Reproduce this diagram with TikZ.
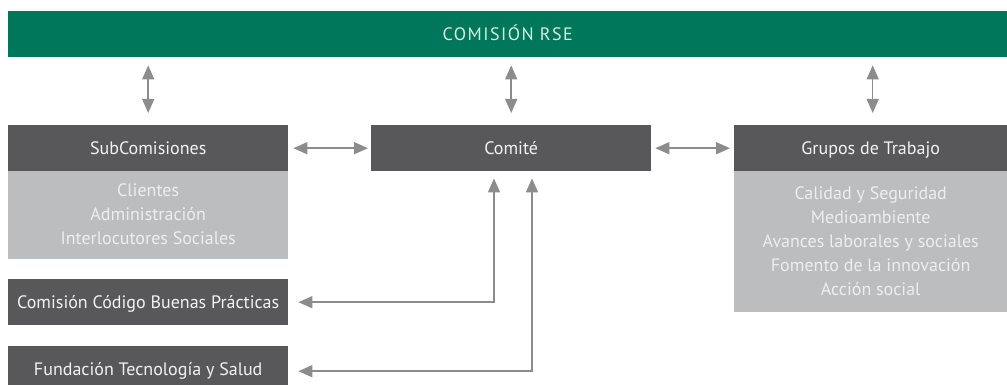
\documentclass[tikz,border=0pt]{standalone}
\usepackage{fontspec}
\setmainfont{PT Sans}
\usetikzlibrary{arrows.meta,calc}
\definecolor{rsegreen}{HTML}{00765A}
\definecolor{darkbox}{HTML}{58585A}
\definecolor{lightbox}{HTML}{BCBDBF}
\definecolor{arrgray}{HTML}{8C8C8C}
\definecolor{greentext}{HTML}{D6EEE4}
\definecolor{lighttext}{HTML}{EEEEEE}
\tikzset{
  darkrect/.style={fill=darkbox, draw=none, inner sep=0pt, text height=13pt, text depth=0pt, text=white!95!black, font=\fontsize{18}{20}\selectfont},
  lightrect/.style={fill=lightbox, draw=none, inner sep=0pt},
  lighttxt/.style={text=lighttext, align=center, font=\fontsize{18}{24}\selectfont, inner sep=0pt},
  arr/.style={draw=arrgray, line width=1.5pt, {Triangle[length=14pt,width=12pt]}-{Triangle[length=14pt,width=12pt]}},
}
\begin{document}
\begin{tikzpicture}[x=1pt,y=-1pt]
\useasboundingbox (0,0) rectangle (1007,385);
% top bar
\node[fill=rsegreen, inner sep=0pt, minimum width=999pt, minimum height=46pt, anchor=north west] (rse) at (8,11) {};
\node[text=greentext, text height=13pt, text depth=0pt, inner sep=0pt, font=\fontsize{18}{20}\selectfont\addfontfeatures{LetterSpace=8}] (rsetxt) at (rse.center) {COMISIÓN RSE};
% row boxes
\node[darkrect, minimum width=280pt, minimum height=46pt, anchor=north west] (sub) at (8,125) {SubComisiones};
\node[darkrect, minimum width=280pt, minimum height=46pt, anchor=north west] (comite) at (371,125) {Comité};
\node[darkrect, minimum width=273pt, minimum height=46pt, anchor=north west] (grupos) at (734,125) {Grupos de Trabajo};
% light boxes
\node[lightrect, minimum width=280pt, minimum height=88pt, anchor=north west] (subl) at (8,171) {};
\node[lighttxt] (subltxt) at ([yshift=1pt]subl.center) {Clientes\\Administración\\Interlocutores Sociales};
\node[lightrect, minimum width=273pt, minimum height=141pt, anchor=north west] (gruposl) at (734,171) {};
\node[lighttxt] (gruposltxt) at ([yshift=1pt]gruposl.center) {Calidad y Seguridad\\Medioambiente\\Avances laborales y sociales\\Fomento de la innovación\\Acción social};
% lower boxes
\node[darkrect, minimum width=280pt, minimum height=46pt, anchor=north west] (codigo) at (8,279) {Comisión Código Buenas Prácticas};
\node[darkrect, minimum width=280pt, minimum height=46pt, anchor=north west] (fund) at (8,346) {Fundación Tecnología y Salud};
% vertical arrows
\draw[arr, shorten <=8pt, shorten >=12pt] (rse.south -| sub.north) -- (sub.north);
\draw[arr, shorten <=8pt, shorten >=12pt] (rse.south -| comite.north) -- (comite.north);
\draw[arr, shorten <=8pt, shorten >=12pt] ([xshift=2pt]rse.south -| grupos.north) -- ([xshift=2pt]grupos.north);
% horizontal arrows
\draw[arr, shorten <=5pt, shorten >=3pt] (sub.east) -- (comite.west);
\draw[arr, shorten <=4pt, shorten >=4pt] (comite.east) -- (grupos.west);
% lower connectors
\draw[arr] ([xshift=10pt]codigo.east) -| ([xshift=123pt,yshift=-7pt]comite.south west);
\draw[arr] ([xshift=10pt,yshift=-2pt]fund.east) -| ([xshift=161pt,yshift=-7pt]comite.south west);
\end{tikzpicture}
\end{document}
